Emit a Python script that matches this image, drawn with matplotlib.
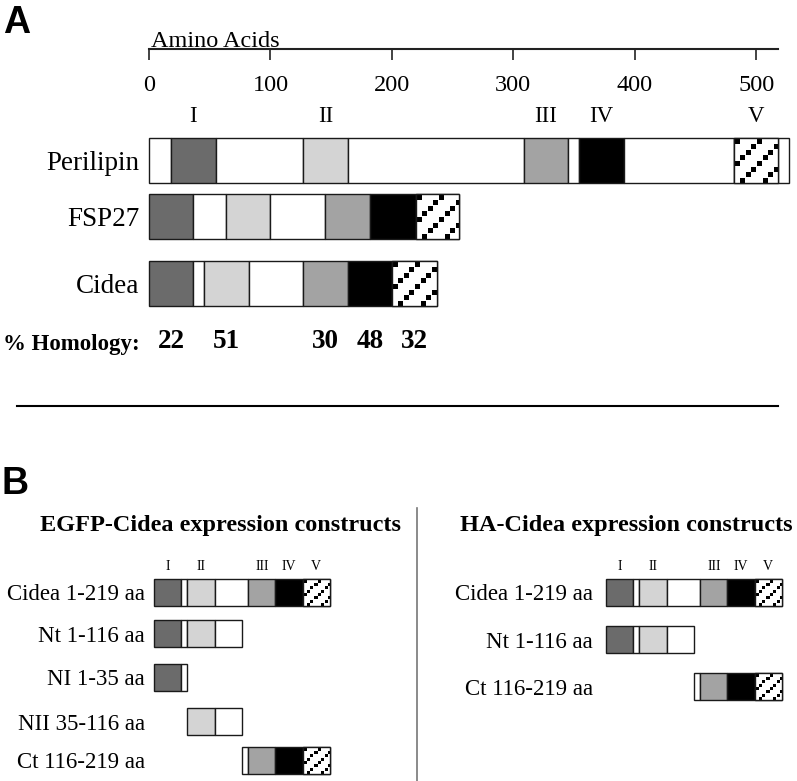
import numpy as np
import matplotlib.pyplot as plt
from matplotlib.lines import Line2D

W, H = 797, 781
SERIF = "Liberation Serif"
SANS = "Liberation Sans"

# ---- panel A: domain maps, in amino acid units of the ruler ----
proteins = ["Perilipin", "FSP27", "Cidea"]
perilipin_edges = [0, 18, 55, 127, 164, 309, 345, 354, 391, 482, 518, 527]
perilipin_kinds = ["-", "I", "-", "II", "-", "III", "-", "IV", "-", "V", "-"]
fsp27_edges = [0, 36.5, 63.5, 100, 145, 182, 219.5, 255.5]
fsp27_kinds = ["I", "-", "II", "-", "III", "IV", "V"]
cidea_edges = [0, 36.5, 45, 82, 127, 163.5, 200, 237]
cidea_kinds = ["I", "-", "II", "-", "III", "IV", "V"]
domains = ["I", "II", "III", "IV", "V"]
homology = [22, 51, 30, 48, 32]
ruler_ticks = [0, 100, 200, 300, 400, 500]

# ---- panel B: constructs as (start, end) on the Cidea map ----
egfp_names = ["Cidea 1-219 aa", "Nt 1-116 aa", "NI 1-35 aa", "NII 35-116 aa", "Ct 116-219 aa"]
egfp_ranges = [(0, 237), (0, 118.5), (0, 45), (45, 118.5), (118.5, 237)]
ha_names = ["Cidea 1-219 aa", "Nt 1-116 aa", "Ct 116-219 aa"]
ha_ranges = [(0, 237), (0, 118.5), (118.5, 237)]

FILLS = {"-": "white", "I": "#6b6b6b", "II": "#d4d4d4", "III": "#a3a3a3",
         "IV": "black", "V": "white"}
EDGE = "#1a1a1a"


def fx(px):
    return px / W


def fy(py):
    return 1 - py / H


def hatch_fill(ax, patch):
    # diagonal rows of small black squares, like the original print
    bb = patch.get_window_extent()
    nx, ny = max(int(round(bb.width)), 1), max(int(round(bb.height)), 1)
    cell = bb.height / 8
    cc, rr = np.meshgrid(np.arange(nx), np.arange(ny))
    ci, ri = np.floor(cc / cell), np.floor(rr / cell)
    inside = (cc - ci * cell < 0.9 * cell) & (rr - ri * cell < 0.9 * cell)
    black = inside & ((ci + ri) % 4 == 0)
    img = np.where(black, 0.0, 1.0)
    x0, y0 = patch.get_x(), patch.get_y()
    x1, y1 = x0 + patch.get_width(), y0 + patch.get_height()
    im = ax.imshow(img, cmap="gray", vmin=0, vmax=1, interpolation="nearest",
                   extent=(x0, x1, y1, y0), origin="upper", aspect="auto", zorder=2)
    im.set_clip_path(patch)
    ax.bar(x0, patch.get_height(), width=patch.get_width(), bottom=y0, align="edge",
           fill=False, edgecolor=EDGE, linewidth=1.0, zorder=3, clip_on=False)


def draw_map(ax, y, edges, kinds, height, lo=None, hi=None):
    lo = edges[0] if lo is None else lo
    hi = edges[-1] if hi is None else hi
    for a, b, k in zip(edges[:-1], edges[1:], kinds):
        a, b = max(a, lo), min(b, hi)
        if b <= a:
            continue
        bars = ax.barh(y, b - a, left=a, height=height, color=FILLS[k],
                       edgecolor=EDGE, linewidth=1.0, zorder=1, clip_on=False)
        if k == "V":
            hatch_fill(ax, bars[0])


def centers(edges, kinds):
    return [(a + b) / 2 for a, b, k in zip(edges[:-1], edges[1:], kinds) if k != "-"]


def clean(ax):
    for s in ax.spines.values():
        s.set_visible(False)
    ax.set_xticks([])
    ax.patch.set_alpha(0)


fig = plt.figure(figsize=(W / 100, H / 100), dpi=100)

# ruler
ax_r = fig.add_axes([fx(149), fy(49), fx(778 - 149), 20 / H])
ax_r.set_xlim(0, 518)
for s in ["top", "left", "right"]:
    ax_r.spines[s].set_visible(False)
ax_r.spines["bottom"].set_linewidth(1.5)
ax_r.spines["bottom"].set_color("#222222")
ax_r.set_yticks([])
ax_r.set_xticks(ruler_ticks)
ax_r.tick_params(axis="x", direction="out", length=8, width=1.2, color="#222222",
                 pad=11, labelsize=17.5)
for t in ax_r.get_xticklabels():
    t.set_family(SERIF)
ax_r.text(2, 0.1, "Amino Acids", transform=ax_r.get_xaxis_transform(),
          ha="left", va="baseline", family=SERIF, fontsize=17.5)
ax_r.patch.set_alpha(0)

# panel A maps
row_y = [160.5, 216.7, 283.8]
homology_y = 341.7
ax_a = fig.add_axes([fx(149), fy(365), fx(629), (365 - 100) / H])
ax_a.set_xlim(0, 518)
ax_a.set_ylim(365, 100)
clean(ax_a)
maps = [(perilipin_edges, perilipin_kinds), (fsp27_edges, fsp27_kinds),
        (cidea_edges, cidea_kinds)]
for y, (e, k) in zip(row_y, maps):
    draw_map(ax_a, y, e, k, 45)
ax_a.set_yticks(row_y + [homology_y], labels=proteins + ["% Homology:"])
ax_a.tick_params(axis="y", length=0, pad=7, labelsize=19.5)
for t in ax_a.get_yticklabels():
    t.set_family(SERIF)
ax_a.get_yticklabels()[-1].set_fontweight("bold")
ax_a.get_yticklabels()[-1].set_fontsize(16.5)

for x, d in zip(centers(perilipin_edges, perilipin_kinds), domains):
    ax_a.text(x, 117, d, ha="center", va="center", family=SERIF, fontsize=16.5)
for x, v in zip(centers(cidea_edges, cidea_kinds), homology):
    ax_a.text(x, homology_y, str(v), ha="center", va="center", family=SERIF,
              fontsize=19.5, fontweight="bold")

# separator between A and B
fig.add_artist(Line2D([fx(17), fx(778)], [fy(406), fy(406)], color="black", lw=1.5))
fig.add_artist(Line2D([fx(416.7), fx(416.7)], [fy(508), 0], color="#777777", lw=1.2))

fig.text(fx(3), fy(5), "A", ha="left", va="top", family=SANS, fontweight="bold", fontsize=27)
fig.text(fx(1), fy(466), "B", ha="left", va="top", family=SANS, fontweight="bold", fontsize=27)

fig.text(fx(221), fy(525), "EGFP-Cidea expression constructs", ha="center", va="center",
         family=SERIF, fontweight="bold", fontsize=17.5)
fig.text(fx(626), fy(525), "HA-Cidea expression constructs", ha="center", va="center",
         family=SERIF, fontweight="bold", fontsize=17.5)


def construct_panel(left_px, rows, names, ranges, pad):
    ax = fig.add_axes([fx(left_px), 0, fx(176), (781 - 550) / H])
    ax.set_xlim(0, 237)
    ax.set_ylim(781, 550)
    clean(ax)
    for y, (lo, hi) in zip(rows, ranges):
        draw_map(ax, y, cidea_edges, cidea_kinds, 26.7, lo, hi)
    ax.set_yticks(rows, labels=names)
    ax.tick_params(axis="y", length=0, pad=pad, labelsize=16.5)
    for t in ax.get_yticklabels():
        t.set_family(SERIF)
    for x, d in zip(centers(cidea_edges, cidea_kinds), domains):
        ax.text(x, 566, d, ha="center", va="center", family=SERIF, fontsize=10)


construct_panel(154, [592.3, 633.7, 677.3, 721.7, 760.5], egfp_names, egfp_ranges, 6.5)
construct_panel(606, [592.3, 639.7, 686.7], ha_names, ha_ranges, 9.5)

fig.savefig("out.png", dpi=100)
